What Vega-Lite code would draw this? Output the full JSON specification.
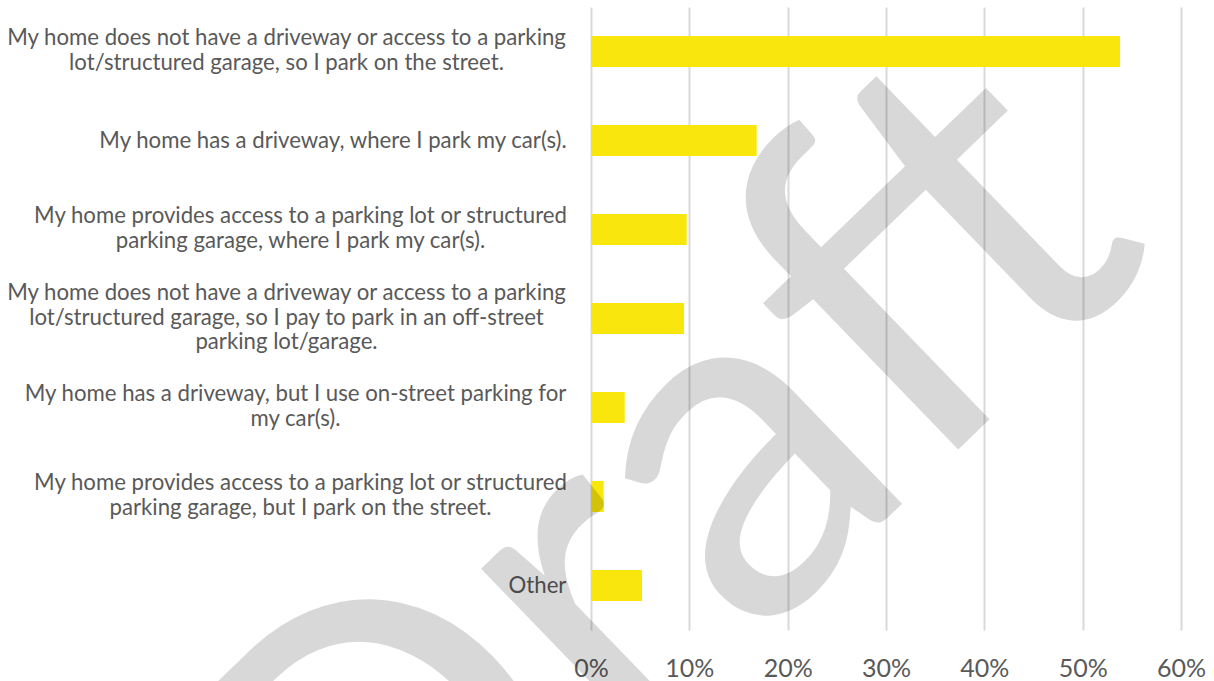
{
  "$schema": "https://vega.github.io/schema/vega-lite/v6.json",
  "width": 590,
  "height": 623,
  "autosize": "none",
  "padding": {"left": 591, "top": 7, "right": 33, "bottom": 51},
  "background": "white",
  "config": {"view": {"stroke": null}, "font": "Lato"},
  "layer": [
    {
      "data": {
        "values": [
          {"response": "My home does not have a driveway or access to a parking\nlot/structured garage, so I park on the street.", "share": 0.538},
          {"response": "My home has a driveway, where I park my car(s).", "share": 0.1685},
          {"response": "My home provides access to a parking lot or structured\nparking garage, where I park my car(s).", "share": 0.0973},
          {"response": "My home does not have a driveway or access to a parking\nlot/structured garage, so I pay to park in an off-street\nparking lot/garage.", "share": 0.0946},
          {"response": "My home has a driveway, but I use on-street parking for\nmy car(s).", "share": 0.0343},
          {"response": "My home provides access to a parking lot or structured\nparking garage, but I park on the street.", "share": 0.0129},
          {"response": "Other", "share": 0.0519}
        ]
      },
      "mark": {"type": "bar", "color": "#F9E60C"},
      "encoding": {
        "y": {
          "field": "response",
          "type": "nominal",
          "sort": null,
          "scale": {
            "domain": [
              "My home does not have a driveway or access to a parking\nlot/structured garage, so I park on the street.",
              "My home has a driveway, where I park my car(s).",
              "My home provides access to a parking lot or structured\nparking garage, where I park my car(s).",
              "My home does not have a driveway or access to a parking\nlot/structured garage, so I pay to park in an off-street\nparking lot/garage.",
              "My home has a driveway, but I use on-street parking for\nmy car(s).",
              "My home provides access to a parking lot or structured\nparking garage, but I park on the street.",
              "Other"
            ],
            "paddingInner": 0.652,
            "paddingOuter": 0.326
          },
          "axis": {
            "title": null,
            "domain": false,
            "ticks": false,
            "tickSize": 0,
            "labelFont": "Lato",
            "labelFontSize": 22.2,
            "labelColor": "#595959",
            "labelAlign": "center",
            "labelBaseline": "middle",
            "labelLineHeight": 24.5,
            "labelLimit": 0,
            "labelExpr": "split(datum.label, '\\n')",
            "labelOffset": {
              "condition": [
                {"test": "indexof(datum.value, 'off-street') >= 0", "value": -25.5},
                {"test": "indexof(datum.value, '\\n') >= 0", "value": -13.5}
              ],
              "value": 0
            },
            "labelPadding": {
              "condition": [
                {"test": "indexof(datum.value, 'Other') >= 0", "value": 54},
                {"test": "indexof(datum.value, 'off-street') >= 0", "value": 305},
                {"test": "indexof(datum.value, 'so I park on the street') >= 0", "value": 305},
                {"test": "indexof(datum.value, 'has a driveway, where') >= 0", "value": 258.5},
                {"test": "indexof(datum.value, 'on-street parking for') >= 0", "value": 296}
              ],
              "value": 291
            }
          }
        },
        "x": {
          "field": "share",
          "type": "quantitative",
          "scale": {"domain": [0, 0.6]},
          "axis": {
            "title": null,
            "format": ".0%",
            "values": [0, 0.1, 0.2, 0.3, 0.4, 0.5, 0.6],
            "domain": false,
            "ticks": false,
            "tickSize": 0,
            "grid": true,
            "gridColor": "#D9D9D9",
            "gridWidth": 2,
            "labelFont": "Lato",
            "labelFontSize": 25,
            "labelColor": "#595959",
            "labelPadding": 26,
            "labelFlush": false
          }
        }
      }
    },
    {
      "data": {"values": [{"word": "Draft"}]},
      "mark": {
        "type": "text",
        "font": "Lato",
        "fontSize": 485,
        "angle": -44,
        "align": "center",
        "baseline": "middle",
        "color": "#000000",
        "opacity": 0.15
      },
      "encoding": {
        "x": {"datum": 0.072},
        "y": {"datum": "Other", "bandPosition": -1.2},
        "text": {"field": "word"}
      }
    }
  ]
}
